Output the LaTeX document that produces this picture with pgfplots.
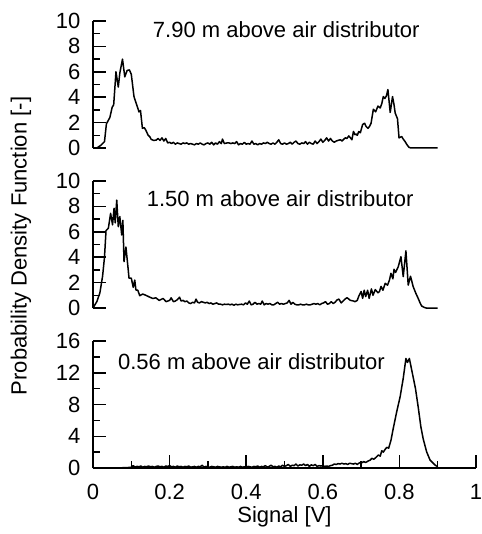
\documentclass[border=0pt]{standalone}
\usepackage{pgfplots}
\pgfplotsset{compat=1.18}
\usepackage{fontspec}
\setmainfont{Liberation Sans}
\newcommand{\bigf}{\fontsize{22}{26}\selectfont}

\pgfplotstableread{
x y
0 0
0.01 0
0.02 0.2
0.03 0.5
0.035 1.9
0.044 2.4
0.05 3.2
0.054 3.4
0.06 6.0
0.066 4.8
0.070 5.9
0.077 7.0
0.083 5.6
0.089 6.1
0.095 6.15
0.1 5.8
0.107 4.05
0.113 3.5
0.12 2.85
0.124 2.95
0.129 1.55
0.134 1.6
0.138 1.4
0.144 1.0
0.148 0.9
0.152 0.68
0.158 0.6
0.165 0.62
0.17 0.75
0.175 0.6
0.18 0.8
0.185 0.55
0.19 0.75
0.195 0.4
0.2 0.45
0.205 0.35
0.21 0.45
0.215 0.3
0.22 0.4
0.225 0.35
0.23 0.3
0.235 0.4
0.24 0.35
0.245 0.4
0.25 0.3
0.255 0.35
0.26 0.3
0.265 0.25
0.27 0.35
0.275 0.3
0.28 0.4
0.285 0.3
0.29 0.25
0.295 0.35
0.3 0.4
0.305 0.3
0.31 0.45
0.315 0.25
0.32 0.4
0.325 0.3
0.33 0.5
0.335 0.35
0.338 0.7
0.343 0.35
0.35 0.4
0.355 0.4
0.36 0.35
0.365 0.4
0.37 0.35
0.375 0.5
0.38 0.25
0.385 0.35
0.39 0.3
0.395 0.45
0.4 0.3
0.405 0.35
0.41 0.3
0.415 0.55
0.42 0.3
0.425 0.35
0.43 0.25
0.435 0.35
0.44 0.3
0.445 0.4
0.45 0.35
0.455 0.45
0.46 0.35
0.465 0.3
0.47 0.4
0.475 0.3
0.48 0.45
0.485 0.65
0.49 0.35
0.495 0.3
0.5 0.4
0.505 0.3
0.51 0.35
0.515 0.45
0.52 0.3
0.525 0.45
0.53 0.55
0.535 0.35
0.54 0.3
0.545 0.4
0.55 0.35
0.555 0.5
0.56 0.3
0.565 0.45
0.57 0.35
0.575 0.3
0.58 0.55
0.585 0.35
0.59 0.5
0.595 0.7
0.6 0.45
0.605 0.6
0.61 0.8
0.615 0.55
0.62 0.75
0.625 0.55
0.63 0.45
0.635 0.55
0.64 0.6
0.646 0.65
0.65 0.55
0.655 0.7
0.659 0.8
0.663 0.75
0.668 0.95
0.672 0.8
0.676 0.65
0.68 1.3
0.684 1.05
0.687 1.1
0.69 1.0
0.694 1.3
0.698 1.2
0.704 1.85
0.709 1.95
0.713 1.7
0.718 1.55
0.722 1.7
0.726 1.95
0.732 3.05
0.738 2.85
0.744 3.3
0.75 3.15
0.754 3.5
0.758 4.05
0.762 3.9
0.766 4.1
0.77 4.6
0.776 2.8
0.782 4.05
0.786 3.4
0.789 2.75
0.795 2.3
0.799 0.8
0.806 0.9
0.81 0.7
0.815 0.5
0.82 0.25
0.825 0.05
0.83 0
0.9 0
}\tabA

\pgfplotstableread{
x y
0 0
0.01 0.5
0.018 1.2
0.025 2.5
0.03 4.0
0.034 6.1
0.04 6.27
0.046 7.45
0.051 6.55
0.055 7.85
0.058 6.7
0.062 8.5
0.066 6.4
0.07 7.2
0.075 5.75
0.078 6.9
0.081 3.65
0.086 4.8
0.092 3.0
0.094 2.35
0.1 2.35
0.105 1.63
0.109 2.2
0.112 1.42
0.117 1.4
0.122 0.97
0.13 1.1
0.138 1.0
0.147 0.87
0.156 0.75
0.164 0.8
0.173 0.6
0.183 0.75
0.191 0.5
0.2 0.6
0.204 0.8
0.21 0.5
0.215 0.55
0.22 0.65
0.226 0.85
0.23 0.55
0.235 0.6
0.24 0.5
0.245 0.55
0.25 0.4
0.255 0.35
0.26 0.45
0.265 0.4
0.269 0.7
0.273 0.45
0.278 0.4
0.283 0.5
0.288 0.45
0.293 0.4
0.298 0.45
0.303 0.35
0.308 0.4
0.313 0.3
0.318 0.35
0.323 0.4
0.328 0.3
0.333 0.3
0.338 0.25
0.343 0.3
0.348 0.28
0.353 0.3
0.358 0.25
0.363 0.3
0.368 0.22
0.373 0.3
0.378 0.25
0.383 0.28
0.388 0.3
0.393 0.25
0.398 0.4
0.403 0.3
0.408 0.55
0.413 0.25
0.418 0.3
0.423 0.45
0.428 0.3
0.433 0.35
0.438 0.3
0.442 0.55
0.447 0.25
0.452 0.35
0.457 0.3
0.462 0.35
0.467 0.25
0.472 0.25
0.477 0.35
0.482 0.45
0.487 0.3
0.492 0.35
0.497 0.3
0.502 0.35
0.507 0.4
0.512 0.6
0.517 0.3
0.522 0.45
0.527 0.3
0.532 0.25
0.537 0.25
0.542 0.3
0.547 0.25
0.552 0.25
0.557 0.3
0.562 0.25
0.567 0.25
0.572 0.3
0.577 0.35
0.582 0.3
0.587 0.35
0.592 0.25
0.597 0.35
0.602 0.4
0.607 0.5
0.612 0.3
0.617 0.35
0.622 0.5
0.627 0.35
0.632 0.45
0.637 0.63
0.642 0.7
0.648 0.4
0.653 0.55
0.658 0.7
0.663 0.81
0.668 0.7
0.672 0.6
0.676 0.58
0.68 0.55
0.684 0.5
0.69 0.6
0.694 0.94
0.7 1.3
0.704 0.76
0.708 1.4
0.712 0.9
0.717 1.4
0.721 0.76
0.727 1.5
0.731 1.0
0.737 1.45
0.744 1.2
0.748 1.3
0.752 1.7
0.757 1.4
0.763 1.94
0.769 1.8
0.774 2.2
0.778 2.73
0.783 2.3
0.786 3.05
0.79 2.8
0.797 3.25
0.804 4.04
0.81 2.47
0.817 4.5
0.823 1.8
0.829 2.5
0.836 1.68
0.843 1.15
0.849 0.76
0.854 0.4
0.858 0.16
0.866 0.03
0.87 0
0.9 0
}\tabB

\pgfplotstableread{
x y
0.07 0
0.08 0.05
0.09 0.05
0.1 0.1
0.105 0.3
0.11 0.1
0.115 0.2
0.12 0.15
0.125 0.25
0.13 0.1
0.135 0.2
0.14 0.15
0.145 0.25
0.15 0.15
0.155 0.2
0.16 0.1
0.165 0.2
0.17 0.25
0.175 0.15
0.18 0.2
0.185 0.1
0.19 0.25
0.195 0.2
0.2 0.3
0.205 0.15
0.21 0.2
0.215 0.1
0.22 0.25
0.225 0.15
0.23 0.2
0.235 0.1
0.24 0.2
0.245 0.15
0.25 0.25
0.255 0.1
0.26 0.15
0.265 0.2
0.27 0.1
0.275 0.2
0.28 0.15
0.285 0.35
0.29 0.1
0.295 0.2
0.3 0.15
0.305 0.1
0.31 0.2
0.315 0.15
0.32 0.1
0.325 0.2
0.33 0.15
0.335 0.1
0.34 0.15
0.345 0.1
0.35 0.2
0.355 0.1
0.36 0.15
0.365 0.2
0.37 0.1
0.375 0.15
0.38 0.1
0.385 0.2
0.39 0.1
0.395 0.15
0.4 0.1
0.405 0.2
0.41 0.15
0.415 0.1
0.42 0.2
0.425 0.15
0.43 0.25
0.435 0.1
0.44 0.2
0.445 0.15
0.45 0.3
0.455 0.1
0.46 0.2
0.465 0.35
0.47 0.15
0.475 0.2
0.48 0.1
0.485 0.25
0.49 0.15
0.495 0.35
0.5 0.2
0.505 0.3
0.51 0.45
0.515 0.2
0.52 0.35
0.525 0.3
0.53 0.5
0.535 0.25
0.54 0.4
0.545 0.35
0.55 0.5
0.555 0.3
0.56 0.45
0.565 0.2
0.57 0.4
0.575 0.3
0.58 0.45
0.585 0.2
0.59 0.3
0.595 0.25
0.6 0.3
0.605 0.2
0.61 0.25
0.615 0.2
0.62 0.3
0.625 0.35
0.63 0.5
0.635 0.45
0.64 0.55
0.645 0.5
0.65 0.6
0.655 0.5
0.66 0.55
0.665 0.45
0.67 0.6
0.675 0.55
0.68 0.5
0.685 0.6
0.69 0.45
0.694 0.6
0.698 0.7
0.702 0.67
0.707 0.8
0.712 0.7
0.719 0.9
0.724 1.0
0.728 1.22
0.733 1.1
0.738 1.3
0.745 1.64
0.75 1.5
0.754 2.18
0.758 2.0
0.762 2.3
0.767 2.6
0.772 2.5
0.778 3.5
0.784 5.0
0.793 7.1
0.802 9.0
0.81 11.3
0.817 13.8
0.821 13.3
0.826 13.8
0.834 11.9
0.842 10.0
0.849 7.7
0.856 5.2
0.862 3.7
0.871 2.05
0.88 1.0
0.893 0.38
0.9 0.15
}\tabC

\pgfplotsset{
  panel/.style={
    scale only axis, width=383pt, height=127pt,
    xmin=0, xmax=1, ymin=0, enlargelimits=false,
    major tick length=13pt, minor tick length=7pt,
    every tick/.style={line width=1.5pt, black},
    tick label style={font=\bigf},
    /pgf/number format/assume math mode=true,
    yticklabel style={xshift=-9pt},
    xticklabel style={yshift=-13pt},
    clip=false,
    font=\bigf,
  },
  lines/.style={
    axis line style={-, line width=1.5pt, black},
    x axis line style={-}, y axis line style={-},
    tick align=inside, xtick align=inside, ytick align=inside,
  },
  curve/.style={black, line width=1.5pt, line join=round, no marks},
}

\begin{document}
\begin{tikzpicture}
\useasboundingbox (0pt,0pt) rectangle (481pt,-534pt);

\begin{axis}[panel, at={(93pt,-148pt)}, anchor=south west,
  axis x line=none, axis y line=left, lines,
  ymax=10, ytick={0,2,...,10}, minor ytick={1,3,...,9}]
  \addplot[curve] table[x=x,y=y] {\tabA};
  \node[anchor=west, inner sep=0pt, font=\bigf] at (axis cs:0.156,9.3) {7.90 m above air distributor};
\end{axis}

\begin{axis}[panel, at={(93pt,-308pt)}, anchor=south west,
  axis x line=none, axis y line=left, lines,
  ymax=10, ytick={0,2,...,10}, minor ytick={1,3,...,9}]
  \addplot[curve] table[x=x,y=y] {\tabB};
  \node[anchor=west, inner sep=0pt, font=\bigf] at (axis cs:0.140,8.58) {1.50 m above air distributor};
\end{axis}

\begin{axis}[panel, at={(93pt,-468pt)}, anchor=south west,
  axis x line=bottom, axis y line=left, lines,
  xmajorticks=true, xminorticks=true,
  ymax=16, ytick={0,4,...,16}, minor ytick={2,6,...,14},
  xtick={0,0.2,...,1}, minor xtick={0.1,0.3,...,0.9},
  xlabel={Signal [V]}, xlabel style={font=\bigf, yshift=0pt}]
  \addplot[curve] table[x=x,y=y] {\tabC};
  \node[anchor=west, inner sep=0pt, font=\bigf] at (axis cs:0.065,13.35) {0.56 m above air distributor};
\end{axis}

\node[rotate=90, font=\bigf] at (21pt,-246pt) {Probability Density Function [-]};
\end{tikzpicture}
\end{document}
